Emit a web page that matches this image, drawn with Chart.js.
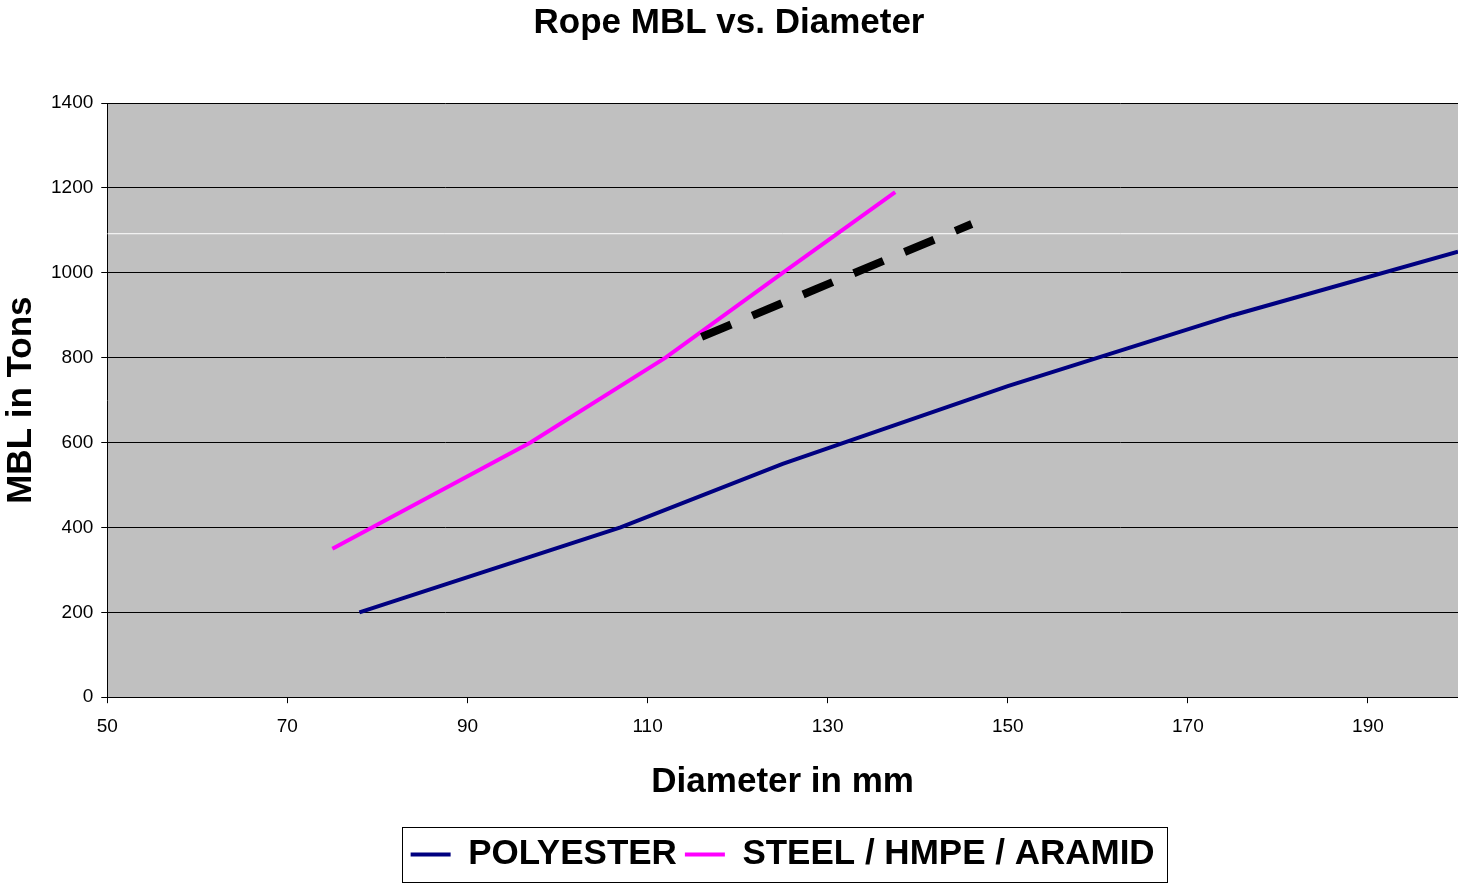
<!DOCTYPE html>
<html>
<head>
<meta charset="utf-8">
<script src="https://cdn.jsdelivr.net/npm/chart.js@4/dist/chart.umd.min.js"></script>
<style>
  html, body { margin: 0; padding: 0; background: #fff; }
  #wrap { width: 1458px; height: 884px; }
</style>
</head>
<body>
<div id="wrap"><canvas id="ropeChart" width="1458" height="884"></canvas></div>
<script>
// values
const diameterPolyester = [78, 107, 125, 150, 175, 200];
const mblPolyester = [200, 400, 550, 733, 900, 1050];
const diameterSteel = [75, 97, 112, 125, 137.5];
const mblSteel = [350, 600, 800, 1000, 1190];
const diameterTrend = [116, 146];
const mblTrend = [849, 1115];
const diameterRef = [50, 200];
const mblRef = [1092, 1092];
const xTicks = [50, 70, 90, 110, 130, 150, 170, 190];

const toPoints = (xs, ys) => xs.map((x, i) => ({ x: x, y: ys[i] }));
const FONT = 'Liberation Sans, Arial, sans-serif';

const plotBackground = {
    id: 'plotBackground',
    beforeDraw(chart) {
        const { ctx, chartArea } = chart;
        ctx.save();
        ctx.fillStyle = '#ffffff';
        ctx.fillRect(0, 0, chart.width, chart.height);
        ctx.fillStyle = '#c0c0c0';
        ctx.fillRect(chartArea.left, chartArea.top, chartArea.right - chartArea.left, chartArea.bottom - chartArea.top);
        ctx.restore();
    }
};

const legendFrame = {
    id: 'legendFrame',
    afterDraw(chart) {
        const boxes = chart.legend.legendHitBoxes;
        if (!boxes || !boxes.length) return;
        const left = Math.min(...boxes.map(b => b.left)) - 9;
        const right = Math.max(...boxes.map(b => b.left + b.width)) + 12;
        const top = Math.min(...boxes.map(b => b.top)) - 10;
        const bottom = Math.max(...boxes.map(b => b.top + b.height)) + 10;
        const ctx = chart.ctx;
        ctx.save();
        ctx.strokeStyle = '#000';
        ctx.lineWidth = 1;
        ctx.strokeRect(Math.round(left) + 0.5, Math.round(top) + 0.5, Math.round(right - left), Math.round(bottom - top));
        ctx.restore();
    }
};

document.addEventListener('DOMContentLoaded', function() {
    const ctx = document.getElementById('ropeChart').getContext('2d');
    new Chart(ctx, {
        type: 'line',
        data: {
            datasets: [
                {
                    label: 'POLYESTER',
                    data: toPoints(diameterPolyester, mblPolyester),
                    borderColor: '#000080',
                    backgroundColor: '#000080',
                    borderWidth: 4,
                    pointRadius: 0,
                    order: 1
                },
                {
                    label: 'STEEL / HMPE / ARAMID',
                    data: toPoints(diameterSteel, mblSteel),
                    borderColor: '#ff00ff',
                    backgroundColor: '#ff00ff',
                    borderWidth: 4,
                    pointRadius: 0,
                    order: 1
                },
                {
                    label: 'trend',
                    data: toPoints(diameterTrend, mblTrend),
                    borderColor: '#000000',
                    borderWidth: 8,
                    borderDash: [32, 23],
                    borderCapStyle: 'butt',
                    pointRadius: 0,
                    order: 0
                },
                {
                    label: 'ref',
                    data: toPoints(diameterRef, mblRef),
                    borderColor: '#ffffff',
                    borderWidth: 1,
                    pointRadius: 0,
                    order: 3
                }
            ]
        },
        options: {
            responsive: false,
            animation: false,
            layout: { padding: { left: 0, right: 0, top: 0, bottom: 2 } },
            scales: {
                x: {
                    type: 'linear',
                    min: 50,
                    max: 200,
                    afterBuildTicks: function(scale) {
                        scale.ticks = xTicks.map(v => ({ value: v }));
                    },
                    ticks: {
                        color: '#000',
                        font: { family: FONT, size: 19 },
                        padding: 12,
                        maxRotation: 0
                    },
                    grid: {
                        drawOnChartArea: false,
                        drawTicks: true,
                        tickLength: 6,
                        color: '#000'
                    },
                    border: { color: '#000', width: 1 },
                    title: {
                        display: true,
                        text: 'Diameter in mm',
                        color: '#000',
                        font: { family: FONT, size: 35, weight: 'bold' },
                        padding: { top: 11, bottom: 26 }
                    }
                },
                y: {
                    min: 0,
                    max: 1400,
                    ticks: {
                        stepSize: 200,
                        color: '#000',
                        font: { family: FONT, size: 19 },
                        padding: 8,
                        callback: v => String(v)
                    },
                    grid: {
                        color: '#000',
                        tickLength: 6,
                        lineWidth: 1
                    },
                    border: { color: '#000', width: 1 },
                    title: {
                        display: true,
                        text: 'MBL in Tons',
                        color: '#000',
                        font: { family: FONT, size: 35, weight: 'bold' },
                        padding: { top: 0, bottom: 1 }
                    }
                }
            },
            plugins: {
                title: {
                    display: true,
                    text: 'Rope MBL vs. Diameter',
                    color: '#000',
                    font: { family: FONT, size: 35, weight: 'bold' },
                    padding: { top: 2, bottom: 59 }
                },
                legend: {
                    position: 'bottom',
                    fullSize: false,
                    labels: {
                        color: '#000',
                        font: { family: FONT, size: 35, weight: 'bold' },
                        boxWidth: 40,
                        boxHeight: 4,
                        padding: 8,
                        filter: item => item.datasetIndex < 2,
                        generateLabels: function(chart) {
                            const items = Chart.defaults.plugins.legend.labels.generateLabels(chart);
                            items.forEach(it => { it.lineWidth = 0; it.lineDash = []; });
                            return items;
                        }
                    }
                },
                tooltip: { enabled: false }
            }
        },
        plugins: [plotBackground, legendFrame]
    });
});
</script>
</body>
</html>
